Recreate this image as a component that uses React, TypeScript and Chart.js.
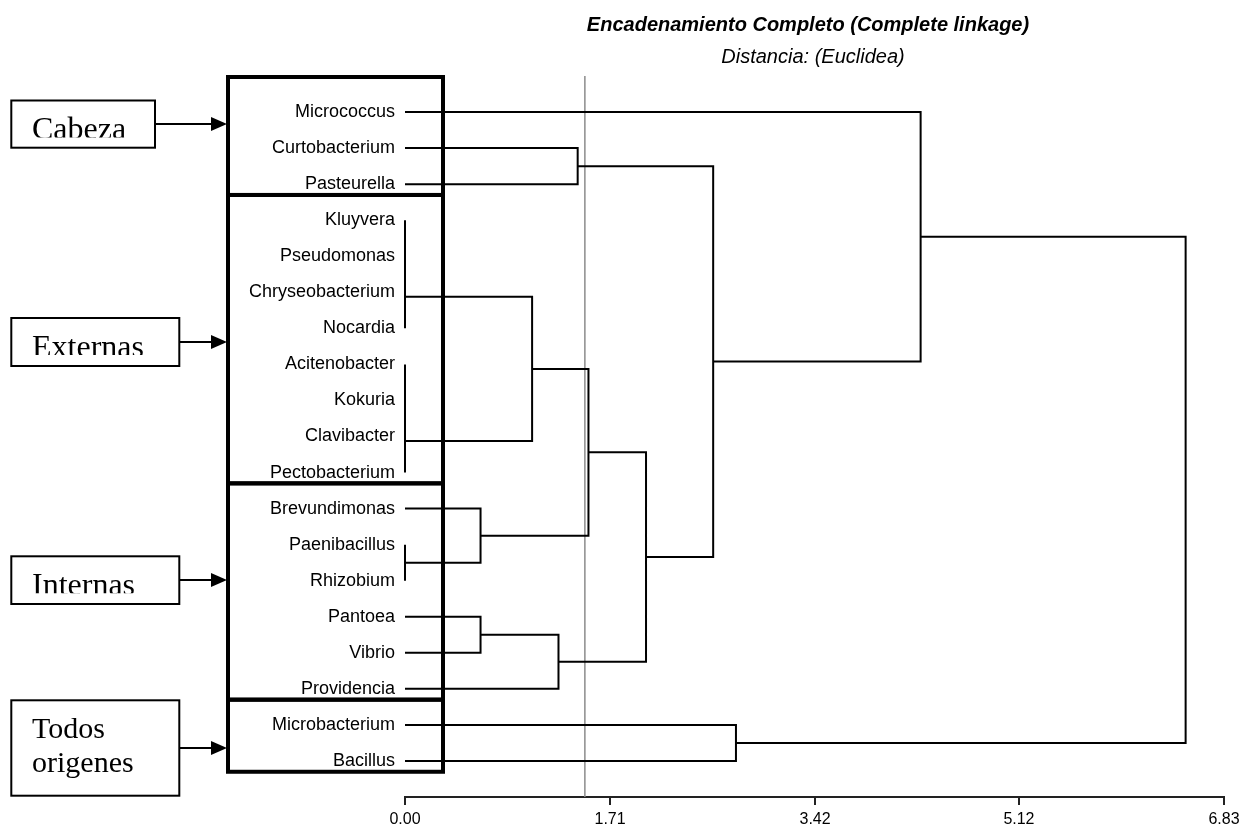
import React, { useEffect, useRef } from "react";
import { Chart, registerables } from "chart.js";

Chart.register(...registerables);

// Leaves of the dendrogram, top to bottom
const leafNames = [
  "Micrococcus",
  "Curtobacterium",
  "Pasteurella",
  "Kluyvera",
  "Pseudomonas",
  "Chryseobacterium",
  "Nocardia",
  "Acitenobacter",
  "Kokuria",
  "Clavibacter",
  "Pectobacterium",
  "Brevundimonas",
  "Paenibacillus",
  "Rhizobium",
  "Pantoea",
  "Vibrio",
  "Providencia",
  "Microbacterium",
  "Bacillus",
];

// Linkage steps (ids below leafNames.length are leaves; each step creates id = leaves + step index)
const mergePairs: [number, number][] = [
  [3, 4],
  [19, 5],
  [20, 6],
  [7, 8],
  [22, 9],
  [23, 10],
  [12, 13],
  [11, 25],
  [14, 15],
  [1, 2],
  [21, 24],
  [27, 16],
  [29, 26],
  [31, 30],
  [28, 32],
  [17, 18],
  [0, 33],
  [35, 34],
];

// Linkage distance of each step
const mergeHeights = [
  0, 0, 0, 0, 0, 0, 0, 0.63, 0.63, 1.44, 1.06, 1.28, 1.53, 2.01, 2.57, 2.76, 4.3, 6.51,
];

// Distance axis
const xTicks = [0, 1.71, 3.42, 5.12, 6.83];
const xMax = 6.83;
const cutDistance = 1.5;

// Origin groups shown on the left
const groupNames = [["Cabeza"], ["Externas"], ["Internas"], ["Todos", "origenes"]];
const groupFirstLeaf = [0, 3, 11, 17];
const groupLastLeaf = [2, 10, 16, 18];

const titleText = "Encadenamiento Completo (Complete linkage)";
const subtitleText = "Distancia: (Euclidea)";

type Pt = { x: number; y: number | null };

function buildBranches(): Pt[] {
  const xs: number[] = leafNames.map(() => 0);
  const ys: number[] = leafNames.map((_, i) => i);
  const pts: Pt[] = [];
  mergePairs.forEach(([a, b], k) => {
    const h = mergeHeights[k];
    pts.push(
      { x: xs[a], y: ys[a] },
      { x: h, y: ys[a] },
      { x: h, y: ys[b] },
      { x: xs[b], y: ys[b] },
      { x: h, y: null }
    );
    xs.push(h);
    ys.push((ys[a] + ys[b]) / 2);
  });
  return pts;
}

// Label boxes at the left edge (top, height, right edge)
const labelBoxLayout = [
  { top: 100.5, height: 47.2, right: 155 },
  { top: 318, height: 48, right: 179.3 },
  { top: 556.3, height: 47.7, right: 179.3 },
  { top: 700.3, height: 95.4, right: 179.3 },
];

const decorations = {
  id: "decorations",
  afterDraw(chart: any) {
    const ctx: CanvasRenderingContext2D = chart.ctx;
    const yS = chart.scales.y;
    const area = chart.chartArea;
    const px = (v: number) => yS.getPixelForValue(v);
    const step = px(1) - px(0);

    ctx.save();
    ctx.fillStyle = "#000";
    ctx.strokeStyle = "#000";

    // titles
    ctx.textAlign = "center";
    ctx.textBaseline = "alphabetic";
    ctx.font = "italic bold 20px 'Liberation Sans', Arial, sans-serif";
    ctx.fillText(titleText, 808, 31);
    ctx.font = "italic 20px 'Liberation Sans', Arial, sans-serif";
    ctx.fillText(subtitleText, 813, 63);

    // thick group frames around the leaf labels
    ctx.lineWidth = 4;
    ctx.lineJoin = "miter";
    const boxLeft = 228;
    const boxRight = 443;
    groupNames.forEach((_, g) => {
      const top = g === 0 ? area.top + 1 : px(groupFirstLeaf[g] - 1) + 0.3 * step;
      const bottom = px(groupLastLeaf[g]) + 0.3 * step;
      ctx.strokeRect(boxLeft, top, boxRight - boxLeft, bottom - top);
    });

    // label boxes, arrows and texts
    groupNames.forEach((lines, g) => {
      const L = labelBoxLayout[g];
      const left = 11.3;
      ctx.lineWidth = 2;
      ctx.strokeRect(left, L.top, L.right - left, L.height);

      const ay = Math.round(L.top + L.height / 2);
      ctx.beginPath();
      ctx.moveTo(L.right, ay);
      ctx.lineTo(212, ay);
      ctx.stroke();
      ctx.beginPath();
      ctx.moveTo(227, ay);
      ctx.lineTo(211, ay - 7);
      ctx.lineTo(211, ay + 7);
      ctx.closePath();
      ctx.fill();

      ctx.textAlign = "left";
      if (lines.length === 1) {
        ctx.save();
        ctx.beginPath();
        ctx.rect(left, L.top, L.right - left, 37);
        ctx.clip();
        ctx.font = "32px 'Liberation Serif', 'Times New Roman', serif";
        ctx.fillText(lines[0], 32, L.top + 38.5);
        ctx.restore();
      } else {
        ctx.font = "30px 'Liberation Serif', 'Times New Roman', serif";
        lines.forEach((t, i) => ctx.fillText(t, 32, L.top + 37.7 + i * 34));
      }
    });
    ctx.restore();
  },
};

export default function App() {
  const ref = useRef<HTMLCanvasElement | null>(null);

  useEffect(() => {
    if (!ref.current) return;
    Chart.defaults.font.family = "'Liberation Sans', Arial, sans-serif";
    Chart.defaults.color = "#000";
    const chart = new Chart(ref.current, {
      type: "scatter",
      data: {
        datasets: [
          {
            data: buildBranches() as any,
            showLine: true,
            borderColor: "#000",
            borderWidth: 2,
            pointRadius: 0,
            pointHoverRadius: 0,
            spanGaps: false,
            clip: false as any,
            order: 1,
          },
          {
            data: [
              { x: cutDistance, y: -1 },
              { x: cutDistance, y: leafNames.length },
            ],
            showLine: true,
            borderColor: "#8c8c8c",
            borderWidth: 1.5,
            pointRadius: 0,
            pointHoverRadius: 0,
            order: 2,
          },
        ],
      },
      options: {
        responsive: false,
        animation: false,
        events: [],
        layout: { padding: { top: 76, right: 24, left: 0, bottom: 0 } },
        plugins: {
          legend: { display: false },
          tooltip: { enabled: false },
        },
        scales: {
          x: {
            type: "linear",
            min: 0,
            max: xMax,
            afterFit: (s: any) => {
              s.height = 34;
            },
            afterBuildTicks: (s: any) => {
              s.ticks = xTicks.map((v) => ({ value: v }));
            },
            ticks: {
              callback: (v: any) => Number(v).toFixed(2),
              color: "#000",
              font: { size: 16 },
              padding: 5,
              maxRotation: 0,
              autoSkip: false,
            },
            grid: {
              display: true,
              drawOnChartArea: false,
              drawTicks: true,
              tickLength: 8,
              color: "#222",
              lineWidth: 2,
            },
            border: { display: true, color: "#222", width: 2 },
          },
          y: {
            type: "linear",
            reverse: true,
            min: -1,
            max: leafNames.length,
            afterFit: (s: any) => {
              s.width = 405;
            },
            afterBuildTicks: (s: any) => {
              s.ticks = leafNames.map((_, i) => ({ value: i }));
            },
            ticks: {
              callback: (v: any) => leafNames[Number(v)] ?? "",
              color: "#000",
              font: { size: 18 },
              padding: 10,
              autoSkip: false,
            },
            grid: { display: false, drawTicks: false },
            border: { display: false },
          },
        },
      } as any,
      plugins: [decorations],
    });
    return () => chart.destroy();
  }, []);

  return (
    <div style={{ position: "absolute", left: 0, top: 0, background: "#fff" }}>
      <canvas ref={ref} width={1248} height={831} style={{ display: "block" }} />
    </div>
  );
}
